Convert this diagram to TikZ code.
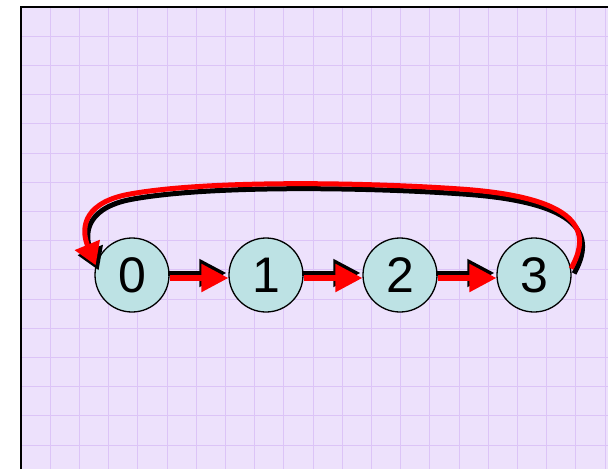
\documentclass[tikz,border=0pt]{standalone}
\usepackage{fontspec}
\setmainfont{Liberation Sans}
\usetikzlibrary{arrows.meta}
\definecolor{bgfill}{RGB}{237,225,252}
\definecolor{gridc}{RGB}{220,196,247}
\definecolor{nodefill}{RGB}{189,226,228}
\begin{document}
\begin{tikzpicture}[x=1pt,y=-1pt,
  vertex/.style={circle,draw=black,line width=1.3pt,fill=nodefill,minimum size=74pt,inner sep=0pt,font=\fontsize{50}{50}\selectfont},
  redarr/.style={draw=red,line width=5.5pt,-{Triangle[length=27pt,width=27pt]}},
  blackarr/.style={draw=black,line width=5pt,-{Triangle[length=27pt,width=27pt]}},
  redcurve/.style={draw=red,line width=5pt,-{Triangle[length=22pt,width=26pt]}},
  blackcurve/.style={draw=black,line width=5pt,-{Triangle[length=22pt,width=26pt]}},
  gridline/.style={draw=gridc,line width=0.9pt},
  frameline/.style={draw=black,line width=2pt}
]
\useasboundingbox (0,0) rectangle (608,469);
\fill[white] (0,0) rectangle (608,469);
\fill[bgfill] (21,7) rectangle (608,469);
\foreach \i in {1,...,20}{
  \draw[gridline] ({21+29.2*\i},7) -- ({21+29.2*\i},469);
}
\foreach \j in {1,...,15}{
  \draw[gridline] (21,{7+29.2*\j}) -- (608,{7+29.2*\j});
}
\draw[frameline] (21,469) -- (21,7) -- (608,7);

\node[vertex] (n0) at (132,275) {0};
\node[vertex] (n1) at (266,275) {1};
\node[vertex] (n2) at (400,275) {2};
\node[vertex] (n3) at (534,275) {3};

% straight arrows: black shadow then red
\foreach \a/\b in {n0/n1,n1/n2,n2/n3}{
  \draw[blackarr] ([xshift=-2pt,yshift=2pt]\a.east) -- ([xshift=-2pt,yshift=2pt]\b.west);
  \draw[redarr] ([yshift=-3pt]\a.east) -- ([yshift=-3pt]\b.west);
}

% curved arrow from 3 back to 0
\begin{scope}[transform canvas={shift={(3,5)}}]
  \draw[blackcurve] (n3.10) .. controls (588,238) and (592,198) .. (460,189)
    .. controls (360,182) and (200,180) .. (125,195)
    .. controls (80,205) and (82,232) .. (n0.165);
\end{scope}
\draw[redcurve] (n3.10) .. controls (588,238) and (592,198) .. (460,189)
    .. controls (360,182) and (200,180) .. (125,195)
    .. controls (80,205) and (82,232) .. (n0.165);
\end{tikzpicture}
\end{document}
